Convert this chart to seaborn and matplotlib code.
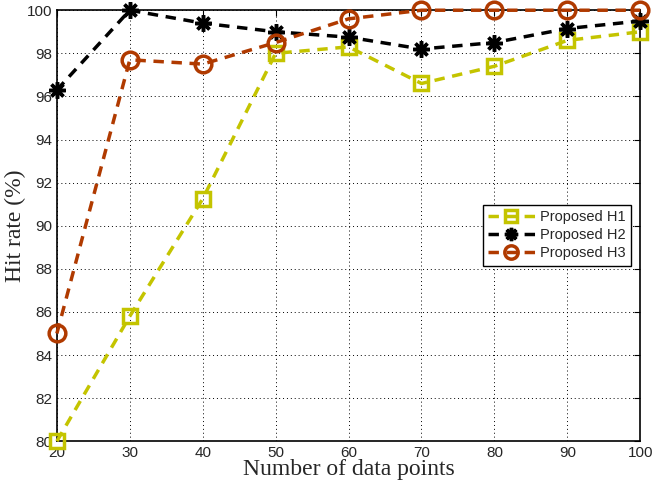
import pandas as pd
import seaborn as sns
import matplotlib.pyplot as plt

# Hit rate vs number of data points
points = [20, 30, 40, 50, 60, 70, 80, 90, 100]
h1 = [80.0, 85.8, 91.25, 98.0, 98.3, 96.6, 97.4, 98.6, 99.0]
h2 = [96.3, 100.0, 99.4, 99.0, 98.75, 98.2, 98.5, 99.15, 99.5]
h3 = [85.0, 97.7, 97.5, 98.5, 99.6, 100.0, 100.0, 100.0, 100.0]
names = ['Proposed H1', 'Proposed H2', 'Proposed H3']

sns.set_style('white')
plt.rcParams['font.family'] = ['Liberation Sans', 'DejaVu Sans']

df = pd.DataFrame({'points': points, names[0]: h1, names[1]: h2, names[2]: h3})
long_df = df.melt(id_vars='points', var_name='Method', value_name='Hit rate')

colors = {names[0]: '#c4c400', names[1]: '#000000', names[2]: '#b03a00'}
markers = {names[0]: 's', names[1]: (8, 2, 0), names[2]: 'o'}

fig = plt.figure(figsize=(6.69, 4.87), dpi=100)
ax = fig.add_axes([0.085, 0.094, 0.872, 0.885])

for name in names:
    sub = long_df[long_df['Method'] == name]
    sns.lineplot(x='points', y='Hit rate', data=sub, ax=ax, color=colors[name],
                 linewidth=2.5, linestyle=(0, (3, 2.2)), marker=markers[name],
                 markersize=12 if name != names[0] else 10,
                 markerfacecolor='none' if name != names[1] else 'black',
                 markeredgecolor=colors[name], markeredgewidth=2.5, label=name,
                 clip_on=False, zorder=3)

ax.set_xlim(20, 100)
ax.set_ylim(80, 100)
ax.set_xticks(range(20, 101, 10))
ax.set_yticks(range(80, 101, 2))
ax.tick_params(direction='in', top=True, right=True, labelsize=11, length=4, color='black')
ax.grid(True, linestyle=(0, (1, 3)), color='black', linewidth=0.7)
for s in ax.spines.values():
    s.set_color('black')
    s.set_linewidth(1.2)
    s.set_zorder(2)

ax.set_xlabel('Number of data points', family='Liberation Serif', fontsize=17, labelpad=-1)
ax.set_ylabel('Hit rate (%)', family='Liberation Serif', fontsize=17, labelpad=0)

leg = ax.legend(loc='upper right', bbox_to_anchor=(0.997, 0.566), fontsize=10.5,
                frameon=True, fancybox=False, edgecolor='black', framealpha=1,
                handlelength=3.2, borderpad=0.35, labelspacing=0.3, handletextpad=0.4,
                markerscale=0.8)
leg.get_frame().set_linewidth(1.0)
leg.set_zorder(5)

fig.savefig('out.png', dpi=100)
